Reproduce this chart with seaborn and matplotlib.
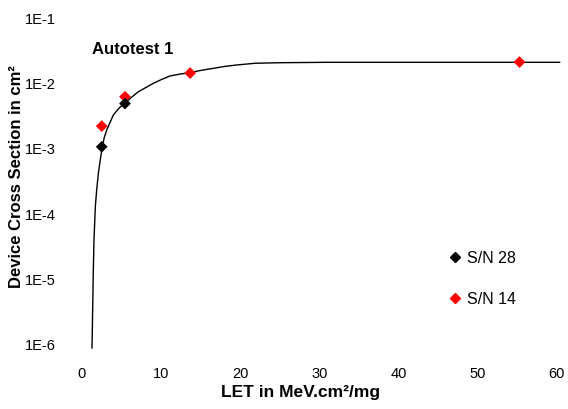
import matplotlib
matplotlib.use("Agg")
import matplotlib.pyplot as plt
import seaborn as sns
import pandas as pd
from matplotlib.lines import Line2D

# Fitted curve
curve_let = [1.30, 1.39, 1.46, 1.55, 1.72, 1.89, 2.10, 2.33, 2.60, 2.85, 3.16, 3.99,
             4.70, 5.47, 6.30, 7.15, 9.04, 10.1, 11.15, 12.4, 13.67, 15.1, 16.58,
             18.0, 19.57, 21.9, 25.0, 30.9, 60.4]
curve_xs = [8.9e-7, 3.8e-6, 1.26e-5, 4.0e-5, 1.30e-4, 2.34e-4, 4.2e-4, 6.6e-4, 1.08e-3,
            1.5e-3, 1.95e-3, 3.3e-3, 4.2e-3, 5.05e-3, 6.2e-3, 7.5e-3, 1.01e-2, 1.16e-2,
            1.31e-2, 1.40e-2, 1.47e-2, 1.60e-2, 1.71e-2, 1.83e-2, 1.93e-2, 2.05e-2,
            2.09e-2, 2.12e-2, 2.12e-2]

# S/N 28 measurements
sn28_let = [2.53, 5.47]
sn28_xs = [1.08e-3, 4.96e-3]

# S/N 14 measurements
sn14_let = [2.53, 5.47, 13.7, 55.3]
sn14_xs = [2.24e-3, 6.3e-3, 1.45e-2, 2.14e-2]

xticks = [0, 10, 20, 30, 40, 50, 60]
yticks = [1e-6, 1e-5, 1e-4, 1e-3, 1e-2, 1e-1]
ytick_labels = ["1E-6", "1E-5", "1E-4", "1E-3", "1E-2", "1E-1"]

sns.set_theme(style="white")
plt.rcParams['font.family'] = ['Liberation Sans', 'DejaVu Sans']
plt.rcParams['text.color'] = 'black'

fig = plt.figure(figsize=(5.68, 4.09), dpi=100)
ax = fig.add_axes([81.7 / 568, 1 - 345 / 409, (556.7 - 81.7) / 568, (345 - 18.3) / 409])

df_curve = pd.DataFrame({"let": curve_let, "xs": curve_xs})
df28 = pd.DataFrame({"let": sn28_let, "xs": sn28_xs})
df14 = pd.DataFrame({"let": sn14_let, "xs": sn14_xs})

sns.lineplot(data=df_curve, x="let", y="xs", ax=ax, color="black", linewidth=1.0,
             sort=False, clip_on=False, zorder=3)
sns.scatterplot(data=df14, x="let", y="xs", ax=ax, color="#ff0000", marker="D",
                s=36, edgecolor="none", zorder=4, clip_on=False)
sns.scatterplot(data=df28, x="let", y="xs", ax=ax, color="black", marker="D",
                s=36, edgecolor="none", zorder=5, clip_on=False)

ax.set_yscale("log")
ax.set_xlim(0, 60)
ax.set_ylim(1e-6, 1e-1)
ax.set_xticks(xticks)
ax.set_xticklabels([str(t) for t in xticks])
ax.set_yticks(yticks)
ax.set_yticklabels(ytick_labels)
ax.minorticks_off()
ax.tick_params(axis="both", length=0, labelsize=10.5, colors="black")
ax.tick_params(axis="y", pad=19)
ax.tick_params(axis="x", pad=16)
for s in ax.spines.values():
    s.set_visible(False)
ax.grid(False)
ax.set_xlabel("")
ax.set_ylabel("")

fig.text(301 / 568, 1 - 392 / 409, "LET in MeV.cm²/mg", ha="center", va="center",
         fontsize=12.5, fontweight="bold")
fig.text(17 / 568, 1 - 177 / 409, "Device Cross Section in cm²", ha="center", va="center",
         rotation=90, fontsize=12, fontweight="bold")
fig.text(91.5 / 568, 1 - 50 / 409, "Autotest 1", ha="left", va="center",
         fontsize=12, fontweight="bold")

handles = [Line2D([], [], marker="D", color="black", linestyle="none", markersize=5),
           Line2D([], [], marker="D", color="#ff0000", linestyle="none", markersize=5)]
fig.legend(handles, ["S/N 28", "S/N 14"], loc="upper left",
           bbox_to_anchor=(442 / 568, 1 - 243 / 409), frameon=False, fontsize=11.5,
           handlelength=0.6, handletextpad=0.45, labelspacing=1.6, borderpad=0)

fig.savefig("out.png", dpi=100)
